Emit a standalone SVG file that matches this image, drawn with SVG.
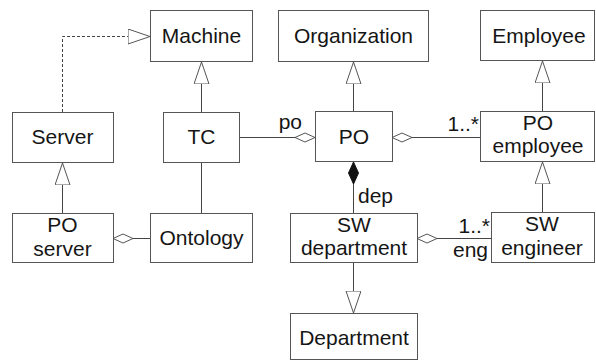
<svg xmlns="http://www.w3.org/2000/svg" width="596" height="361" viewBox="0 0 596 361">
<style>
.box{fill:#fff;stroke:#555;stroke-width:1}
.t{font-family:"Liberation Sans",Arial,sans-serif;font-size:21px;fill:#151515;text-anchor:middle}
.lbl{font-family:"Liberation Sans",Arial,sans-serif;font-size:21px;fill:#151515}
.ln{fill:none;stroke:#444;stroke-width:1}
.dash{stroke-dasharray:3 2}
</style>
<defs>
<marker id="tri" markerUnits="userSpaceOnUse" markerWidth="24" markerHeight="17" refX="22" refY="7.5" orient="auto">
<path d="M0,0 L22,7.5 L0,15 Z" fill="#fff" stroke="#555" stroke-width="1"/>
</marker>
<marker id="dia" markerUnits="userSpaceOnUse" markerWidth="22" markerHeight="12" refX="0.5" refY="5.5" orient="auto">
<path d="M0.5,5.5 L10.5,1 L20.5,5.5 L10.5,10 Z" fill="#fff" stroke="#555" stroke-width="1"/>
</marker>
<marker id="fdia" markerUnits="userSpaceOnUse" markerWidth="24" markerHeight="12" refX="0.5" refY="5.5" orient="auto">
<path d="M0.5,5.5 L11.5,0.5 L22.5,5.5 L11.5,10.5 Z" fill="#111" stroke="#111" stroke-width="1"/>
</marker>
</defs>

<g id="connectors">
<path class="ln dash" d="M62.5,112 V36.5 H150" marker-end="url(#tri)"/>
<path class="ln" d="M201.5,112 V62" marker-end="url(#tri)"/>
<path class="ln" d="M353.5,111 V62" marker-end="url(#tri)"/>
<path class="ln" d="M542.5,111 V61" marker-end="url(#tri)"/>
<path class="ln" d="M542.5,212 V162" marker-end="url(#tri)"/>
<path class="ln" d="M62.5,213 V163" marker-end="url(#tri)"/>
<path class="ln" d="M353.5,263 V313" marker-end="url(#tri)"/>
<path class="ln" d="M315,137.5 H239" marker-start="url(#dia)"/>
<path class="ln" d="M392,137.5 H480" marker-start="url(#dia)"/>
<path class="ln" d="M353.5,162 V213" marker-start="url(#fdia)"/>
<path class="ln" d="M201.5,163 V213"/>
<path class="ln" d="M113,238.5 H150" marker-start="url(#dia)"/>
<path class="ln" d="M417,238.5 H491" marker-start="url(#dia)"/>
<text class="lbl" x="302" y="129" text-anchor="end">po</text>
<text class="lbl" x="479" y="131" text-anchor="end">1..*</text>
<text class="lbl" x="358" y="203">dep</text>
<text class="lbl" x="490" y="233" text-anchor="end">1..*</text>
<text class="lbl" x="488" y="257" text-anchor="end">eng</text>
</g>

<g id="machine"><rect class="box" x="150.5" y="10.5" width="102" height="51"/><text class="t" x="201.5" y="43">Machine</text></g>
<g id="organization"><rect class="box" x="278.5" y="10.5" width="150" height="51"/><text class="t" x="353.5" y="43">Organization</text></g>
<g id="employee"><rect class="box" x="480.5" y="10.5" width="114" height="50"/><text class="t" x="539" y="43">Employee</text></g>
<g id="server"><rect class="box" x="12.5" y="112.5" width="101" height="50"/><text class="t" x="62.5" y="144">Server</text></g>
<g id="tc"><rect class="box" x="163.5" y="112.5" width="76" height="50"/><text class="t" x="201.5" y="144">TC</text></g>
<g id="po"><rect class="box" x="315.5" y="111.5" width="77" height="50"/><text class="t" x="354" y="144">PO</text></g>
<g id="po-employee"><rect class="box" x="480.5" y="111.5" width="114" height="50"/><text class="t" x="538" y="130">PO</text><text class="t" x="538" y="153">employee</text></g>
<g id="po-server"><rect class="box" x="12.5" y="213.5" width="101" height="49"/><text class="t" x="62.5" y="232">PO</text><text class="t" x="62.5" y="256">server</text></g>
<g id="ontology"><rect class="box" x="150.5" y="213.5" width="102" height="49"/><text class="t" x="201.5" y="245">Ontology</text></g>
<g id="sw-department"><rect class="box" x="290.5" y="213.5" width="127" height="49"/><text class="t" x="354" y="232">SW</text><text class="t" x="354" y="255">department</text></g>
<g id="sw-engineer"><rect class="box" x="491.5" y="212.5" width="103" height="50"/><text class="t" x="542" y="231">SW</text><text class="t" x="542" y="255">engineer</text></g>
<g id="department"><rect class="box" x="290.5" y="313.5" width="127" height="46"/><text class="t" x="354" y="345">Department</text></g>
</svg>
